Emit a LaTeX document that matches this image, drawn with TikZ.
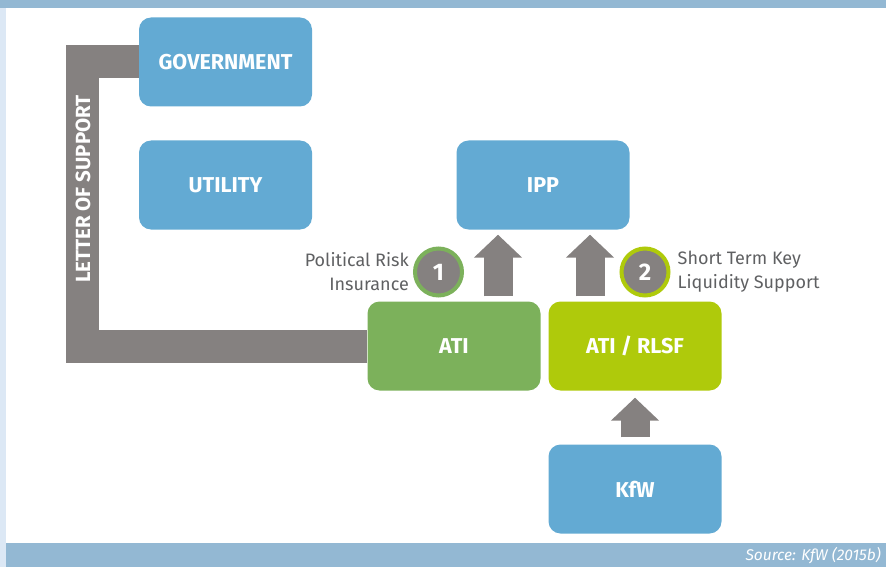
\documentclass[tikz,border=0pt]{standalone}
\usepackage{fontspec}
\setmainfont{Fira Sans}
\usetikzlibrary{arrows.meta,positioning,backgrounds}
\definecolor{boxblue}{HTML}{63AAD3}
\definecolor{atigreen}{HTML}{7CB15B}
\definecolor{rlsflime}{HTML}{AFCA0B}
\definecolor{bargray}{HTML}{858180}
\definecolor{bandblue}{HTML}{93B8D3}
\definecolor{stripblue}{HTML}{DCE8F5}
\definecolor{labelgray}{HTML}{5F6062}
\tikzset{
  party/.style={fill=boxblue, rounded corners=12pt, minimum width=173pt, minimum height=89pt, inner sep=0pt, text=white, font=\bfseries\fontsize{21.5}{23}\selectfont},
  bigarrow/.style={draw=bargray, line width=29pt, -{Triangle[length=23pt,width=47pt]}},
  numdot/.style={circle, fill=bargray, draw=#1, line width=4pt, minimum size=47pt, inner sep=0pt, text=white, font=\bfseries\fontsize{24}{26}\selectfont},
  note/.style={text=labelgray, font=\fontsize{18}{24}\selectfont, inner sep=0pt}
}
\begin{document}
\begin{tikzpicture}[x=1pt,y=-1pt]
\useasboundingbox (0,0) rectangle (886,567);
\fill[stripblue] (0,0) rectangle (6,567); \fill[bandblue] (0,0) rectangle (886,8);
\fill[bandblue] (6,543) rectangle (886,567);
\node[anchor=east, inner sep=0pt, text=white, font=\itshape\fontsize{15.5}{17}\selectfont] (src) at (881,556) {Source: KfW (2015b)};
% parties
\node[party] (gov) at (225.5,62) {GOVERNMENT};
\node[party] (utility) at (225.5,185) {UTILITY};
\node[party] (ipp) at (543,185) {IPP};
\node[party, fill=atigreen] (ati) at (454,346) {ATI};
\node[party, fill=rlsflime] (rlsf) at (635,346) {ATI / RLSF};
\node[party] (kfw) at (635,489) {KfW};
% letter of support
\coordinate (bend) at (82.5,62);
\begin{scope}[on background layer]
\draw[bargray, line width=33pt, line join=miter] (ati.west) -- (ati.west -| bend) -- (bend) -- (gov.west);
\end{scope}
\node[rotate=90, text=white, font=\bfseries\fontsize{20.5}{22}\selectfont] (los) at (83,189) {LETTER OF SUPPORT};
% flows
\draw[bigarrow] ([xshift=44pt,yshift=5pt]ati.north) -- ([xshift=-45pt,yshift=-5pt]ipp.south);
\draw[bigarrow] ([xshift=-45pt,yshift=5pt]rlsf.north) -- ([xshift=47pt,yshift=-5pt]ipp.south);
\draw[bigarrow] ([yshift=7pt]kfw.north) -- ([yshift=-7pt]rlsf.south);
\node[numdot=atigreen] (one) at (438.5,272) {1};
\node[numdot=rlsflime] (two) at (645,272) {2};
\node[note, align=right, left=4pt of one] (pri) {Political Risk\\Insurance};
\node[note, align=left, right=7pt of two] (lqs) {Short Term Key\\Liquidity Support};
\end{tikzpicture}
\end{document}
